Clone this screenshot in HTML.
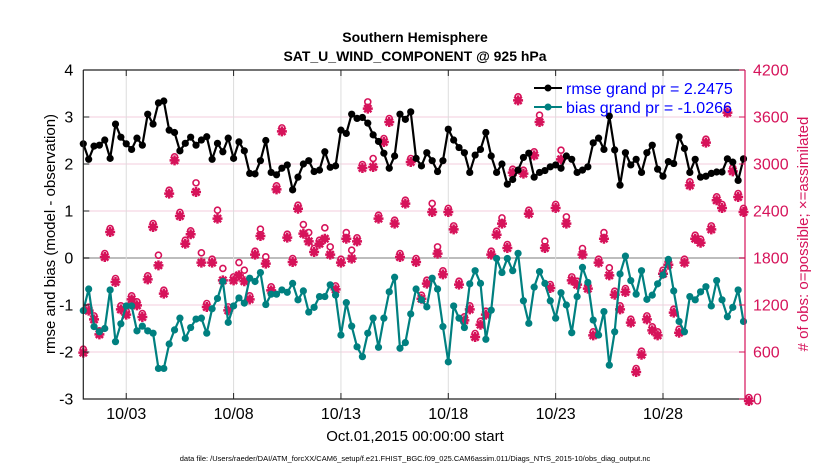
<!DOCTYPE html>
<html><head><meta charset="utf-8"><style>
html,body{margin:0;padding:0;background:#fff;}
svg{display:block;font-family:"Liberation Sans",Arial,sans-serif;}
</style></head><body>
<svg id="chart" width="830" height="470" viewBox="0 0 830 470">
<text x="415" y="42" text-anchor="middle" font-size="14" font-weight="bold">Southern Hemisphere</text>
<text x="415" y="61" text-anchor="middle" font-size="14" font-weight="bold">SAT_U_WIND_COMPONENT @ 925 hPa</text>
<g id="grid"></g>
<g id="series"></g>
<g id="axes"></g>
<text x="415" y="441" text-anchor="middle" font-size="15">Oct.01,2015 00:00:00 start</text>
<text transform="translate(55,234) rotate(-90)" text-anchor="middle" font-size="15">rmse and bias (model - observation)</text>
<text transform="translate(808,234) rotate(-90)" text-anchor="middle" font-size="15" fill="#d6135a"># of obs: o=possible; ×=assimilated</text>
<text x="415" y="461" text-anchor="middle" font-size="7.5">data file: /Users/raeder/DAI/ATM_forcXX/CAM6_setup/f.e21.FHIST_BGC.f09_025.CAM6assim.011/Diags_NTrS_2015-10/obs_diag_output.nc</text>
<g>
<line x1="534" y1="88" x2="562" y2="88" stroke="#000" stroke-width="2"/>
<circle cx="548" cy="88" r="3.5" fill="#000"/>
<text x="566" y="94" font-size="16" fill="#0000ff">rmse grand pr = 2.2475</text>
<line x1="534" y1="107" x2="562" y2="107" stroke="#008080" stroke-width="2"/>
<circle cx="548" cy="107" r="3.5" fill="#008080"/>
<text x="566" y="113" font-size="16" fill="#0000ff">bias grand pr = -1.0266</text>
</g>
</svg>
<script>
const xTickLabels = ["10/03","10/08","10/13","10/18","10/23","10/28"];
const xTickDays = [2,7,12,17,22,27];
const yLeftTicks = [-3,-2,-1,0,1,2,3,4];
const yRightTicks = [0,600,1200,1800,2400,3000,3600,4200];
const stepDays = 0.25;
const rmse = [2.43,2.10,2.38,2.40,2.51,2.12,2.85,2.57,2.43,2.31,2.55,2.40,3.06,2.85,3.30,3.34,2.72,2.67,2.28,2.44,2.57,2.40,2.51,2.58,2.10,2.44,2.26,2.55,2.12,2.47,2.28,1.80,
1.79,2.07,2.50,1.82,1.77,1.91,1.98,1.45,1.72,2.00,2.07,1.84,1.87,2.26,1.93,1.96,2.72,2.65,3.06,2.97,2.99,2.87,2.62,2.48,2.23,1.91,2.17,3.06,2.95,3.11,
2.12,1.96,2.24,2.07,1.84,2.07,2.74,2.51,2.35,2.24,1.82,2.19,2.31,2.67,2.17,1.82,2.00,1.57,1.67,1.87,2.14,2.23,1.72,1.82,1.86,1.94,1.98,1.91,2.17,2.10,1.82,
1.87,1.94,2.45,2.55,2.31,3.02,2.30,1.55,2.24,1.98,2.10,1.82,2.24,2.40,1.89,1.74,2.05,2.01,2.58,2.33,1.82,2.10,1.72,1.74,1.80,1.83,1.83,2.11,2.04,1.65,2.11];
const bias = [-1.12,-0.66,-1.46,-1.57,-1.50,-0.68,-1.78,-1.40,-1.02,-1.02,-1.55,-1.45,-1.55,-1.60,-2.35,-2.35,-1.83,-1.53,-1.28,-1.71,-1.48,-1.30,-1.28,-1.60,-1.08,-0.86,-0.50,-1.37,-1.02,-0.85,-0.96,-0.43,
-0.50,-0.31,-0.99,-0.77,-0.77,-0.68,-0.73,-0.54,-0.89,-0.70,-1.15,-1.05,-0.82,-0.82,-0.57,-0.79,-1.64,-0.95,-1.45,-1.89,-2.10,-1.60,-1.28,-1.90,-1.28,-0.72,-0.41,-1.92,-1.80,-1.19,
-0.66,-0.89,-1.04,-0.43,-0.66,-1.46,-2.21,-1.02,-1.28,-1.48,-0.55,-0.27,-0.54,-1.73,-1.11,-0.01,-0.31,-0.01,-0.27,0.10,-0.91,-1.39,-0.62,-0.29,-0.54,-0.91,-1.28,-0.74,-1.00,-1.59,-0.82,
-0.20,-0.52,-1.32,-1.64,-1.14,-2.28,-1.57,-0.34,0.04,-0.48,-0.77,-0.27,-0.88,-0.79,-0.55,-0.36,-0.03,-0.70,-1.35,-1.57,-0.82,-0.89,-0.72,-0.61,-1.02,-0.48,-0.89,-1.25,-1.05,-0.68,-1.35];
const assimilated = [617,1153,1042,851,1838,2157,1519,1170,1102,1298,1221,1072,1553,2221,1732,1370,2647,3072,2362,2008,2128,2668,1766,1200,1766,2328,1540,1157,1540,1604,1528,1298,
1868,2106,1753,1413,2702,3442,2085,1774,2455,2136,2038,1902,2008,2072,1868,1425,1766,2072,1817,2038,2974,3732,2987,2328,3306,3561,2264,1838,2519,3051,
1774,1306,1498,2413,1881,1617,2413,2191,1485,1030,1170,817,974,1102,1868,2123,2264,1953,2915,3838,2902,2391,3136,3561,1953,1442,2464,3085,2264,1540,1485,
1868,1434,838,1766,2072,1604,1357,1170,1391,1000,370,591,1042,902,838,1625,1740,1128,872,1766,2753,2072,2021,3298,2191,2562,2464,3681,2932,2604,2413,0];
const possible = [617,1153,1042,851,1838,2157,1519,1170,1102,1298,1221,1072,1553,2221,1817,1370,2647,3072,2362,2008,2128,2740,1847,1200,1766,2391,1647,1157,1540,1723,1625,1298,
1868,2149,1796,1413,2702,3442,2085,1774,2455,2208,2106,1902,2008,2166,1923,1425,1766,2106,1881,2038,2974,3774,3051,2328,3306,3561,2264,1838,2519,3051,
1774,1306,1498,2477,1923,1617,2413,2191,1485,1030,1170,817,974,1102,1868,2123,2293,1953,2915,3838,2902,2391,3136,3604,1996,1442,2464,3157,2306,1540,1485,
1902,1434,838,1766,2106,1655,1357,1170,1391,1000,370,591,1042,902,838,1625,1740,1128,872,1766,2753,2072,2021,3298,2191,2562,2464,3681,2932,2604,2413,0];

const X0=83.3, X1=745, YT=70, YB=399, PXDAY=21.47;
const NS='http://www.w3.org/2000/svg';
function xs(d){return X0+d*PXDAY;}
function yl(v){return YT+(4-v)*(YB-YT)/7;}
function yr(c){return YB-c*(YB-YT)/4200;}
function mk(tag,attrs,parent){const e=document.createElementNS(NS,tag);for(const k in attrs)e.setAttribute(k,attrs[k]);parent.appendChild(e);return e;}
const grid=document.getElementById('grid'), ser=document.getElementById('series'), axes=document.getElementById('axes');

yLeftTicks.forEach(v=>{
  const g=mk('line',{x1:X0,x2:X1,y1:yl(v),y2:yl(v),stroke:v===0?'#bdbdbd':'#f3cddd','stroke-width':v===0?2:1},grid);
  
  
});
xTickDays.forEach(d=>{
  const g=mk('line',{x1:xs(d),x2:xs(d),y1:YT,y2:YB,stroke:'#dcdcdc','stroke-width':1},grid);
  
  
});

possible.forEach((c,i)=>{
  const e=mk('circle',{cx:xs(i*stepDays),cy:yr(c)-1.5,r:3,fill:'#fff',stroke:'#d6135a','stroke-width':1.6},ser);
  
  
});
assimilated.forEach((c,i)=>{
  const x=xs(i*stepDays), y=yr(c)+2, r=5, q=3.6;
  const d=`M${x-r},${y}H${x+r}M${x},${y-r}V${y+r}M${x-q},${y-q}L${x+q},${y+q}M${x-q},${y+q}L${x+q},${y-q}`;
  const e=mk('path',{d:d,stroke:'#d6135a','stroke-width':2.5,fill:'none'},ser);
  
  
  const c2=mk('circle',{cx:x,cy:y,r:3.2,fill:'#d6135a'},ser);
  
  
});

function drawSeries(vals,color,name){
  const pts=vals.map((v,i)=>xs(i*stepDays).toFixed(2)+','+yl(v).toFixed(2)).join(' ');
  const l=mk('polyline',{points:pts,fill:'none',stroke:color,'stroke-width':2.2,'stroke-linejoin':'round'},ser);
  
  
  vals.forEach((v,i)=>{
    const c=mk('circle',{cx:xs(i*stepDays),cy:yl(v),r:3.6,fill:color},ser);
    
    
  });
}
drawSeries(rmse,'#000','rmse');
drawSeries(bias,'#008080','bias');

const frame=[['M'+X0+','+YT+'V'+YB+'H'+X1,'#222'],['M'+X0+','+YT+'H'+X1,'#222'],['M'+X1+','+YT+'V'+YB,'#d6135a']];
frame.forEach((f,k)=>{
  const p=mk('path',{d:f[0],stroke:f[1],'stroke-width':1.2,fill:'none'},axes);
  
  
});
yLeftTicks.forEach(v=>{
  const t=mk('line',{x1:X0,x2:X0+6,y1:yl(v),y2:yl(v),stroke:'#222'},axes);
  
  
  const tx=mk('text',{x:X0-10,y:yl(v)+5.5,'text-anchor':'end','font-size':16},axes);
  tx.textContent=String(v);
  
  
});
yRightTicks.forEach(c=>{
  const t=mk('line',{x1:X1-6,x2:X1,y1:yr(c),y2:yr(c),stroke:'#d6135a'},axes);
  
  
  const tx=mk('text',{x:X1+8,y:yr(c)+5.5,'text-anchor':'start','font-size':16,fill:'#d6135a'},axes);
  tx.textContent=String(c);
  
  
});
xTickDays.forEach((d,k)=>{
  const t=mk('line',{x1:xs(d),x2:xs(d),y1:YB,y2:YB-6,stroke:'#222'},axes);
  
  
  const t2=mk('line',{x1:xs(d),x2:xs(d),y1:YT,y2:YT+6,stroke:'#222'},axes);
  
  
  const tx=mk('text',{x:xs(d),y:YB+20,'text-anchor':'middle','font-size':16},axes);
  tx.textContent=xTickLabels[k];
  
  
});
</script>
</body></html>
